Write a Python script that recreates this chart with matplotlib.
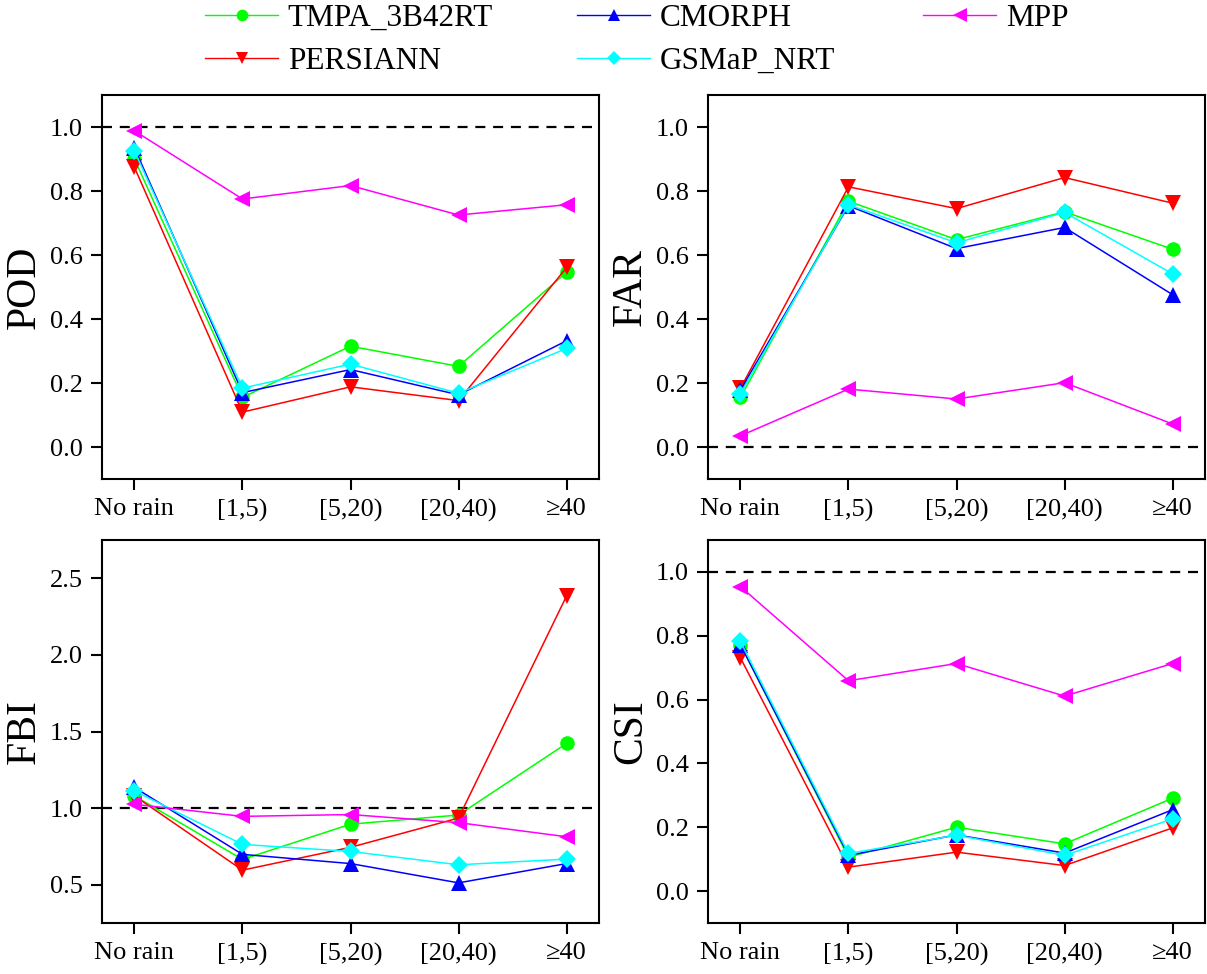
import matplotlib
matplotlib.use("Agg")
import matplotlib.pyplot as plt
from matplotlib.lines import Line2D

plt.rcParams['font.family'] = ['Liberation Serif', 'DejaVu Serif']

categories = ["No rain", "[1,5)", "[5,20)", "[20,40)", "\u226540"]
products = ["TMPA_3B42RT", "PERSIANN", "CMORPH", "GSMaP_NRT", "MPP"]
colors = {"TMPA_3B42RT": "#00FF00", "PERSIANN": "#FF0000", "CMORPH": "#0000FF",
          "GSMaP_NRT": "#00FFFF", "MPP": "#FF00FF"}
markers = {"TMPA_3B42RT": "o", "PERSIANN": "v", "CMORPH": "^",
           "GSMaP_NRT": "D", "MPP": "<"}
msizes = {"TMPA_3B42RT": 10.5, "PERSIANN": 11.5, "CMORPH": 11.5,
          "GSMaP_NRT": 9, "MPP": 12}

pod_tmpa = [0.90, 0.155, 0.315, 0.252, 0.546]
pod_persiann = [0.874, 0.109, 0.188, 0.145, 0.561]
pod_cmorph = [0.935, 0.170, 0.242, 0.163, 0.332]
pod_gsmap = [0.925, 0.184, 0.259, 0.168, 0.308]
pod_mpp = [0.988, 0.775, 0.817, 0.725, 0.757]

far_tmpa = [0.155, 0.768, 0.648, 0.735, 0.618]
far_persiann = [0.183, 0.813, 0.745, 0.842, 0.762]
far_cmorph = [0.178, 0.754, 0.620, 0.686, 0.476]
far_gsmap = [0.167, 0.757, 0.638, 0.733, 0.541]
far_mpp = [0.035, 0.181, 0.150, 0.201, 0.072]

fbi_tmpa = [1.08, 0.665, 0.895, 0.955, 1.422]
fbi_persiann = [1.08, 0.595, 0.744, 0.935, 2.385]
fbi_cmorph = [1.135, 0.698, 0.638, 0.512, 0.638]
fbi_gsmap = [1.112, 0.763, 0.717, 0.630, 0.667]
fbi_mpp = [1.025, 0.946, 0.958, 0.905, 0.813]

csi_tmpa = [0.772, 0.106, 0.200, 0.148, 0.291]
csi_persiann = [0.731, 0.075, 0.122, 0.080, 0.198]
csi_cmorph = [0.772, 0.112, 0.176, 0.119, 0.255]
csi_gsmap = [0.782, 0.118, 0.175, 0.112, 0.226]
csi_mpp = [0.954, 0.659, 0.713, 0.611, 0.713]

panels = [
    ("POD", {"TMPA_3B42RT": pod_tmpa, "PERSIANN": pod_persiann, "CMORPH": pod_cmorph,
             "GSMaP_NRT": pod_gsmap, "MPP": pod_mpp},
     (-0.1, 1.1), [0.0, 0.2, 0.4, 0.6, 0.8, 1.0], 1.0),
    ("FAR", {"TMPA_3B42RT": far_tmpa, "PERSIANN": far_persiann, "CMORPH": far_cmorph,
             "GSMaP_NRT": far_gsmap, "MPP": far_mpp},
     (-0.1, 1.1), [0.0, 0.2, 0.4, 0.6, 0.8, 1.0], 0.0),
    ("FBI", {"TMPA_3B42RT": fbi_tmpa, "PERSIANN": fbi_persiann, "CMORPH": fbi_cmorph,
             "GSMaP_NRT": fbi_gsmap, "MPP": fbi_mpp},
     (0.25, 2.75), [0.5, 1.0, 1.5, 2.0, 2.5], 1.0),
    ("CSI", {"TMPA_3B42RT": csi_tmpa, "PERSIANN": csi_persiann, "CMORPH": csi_cmorph,
             "GSMaP_NRT": csi_gsmap, "MPP": csi_mpp},
     (-0.1, 1.1), [0.0, 0.2, 0.4, 0.6, 0.8, 1.0], 1.0),
]

W, H = 1207, 974
fig = plt.figure(figsize=(W / 100, H / 100), dpi=100)

boxes = [(102, 95, 599, 479), (708, 95, 1205, 479),
         (102, 540, 599, 923), (708, 540, 1205, 923)]

draw_order = ["TMPA_3B42RT", "PERSIANN", "CMORPH", "GSMaP_NRT", "MPP"]

for (name, data, ylim, yticks, ref), (x0, y0, x1, y1) in zip(panels, boxes):
    ax = fig.add_axes([x0 / W, 1 - y1 / H, (x1 - x0) / W, (y1 - y0) / H])
    x = list(range(len(categories)))
    ax.axhline(ref, color="black", lw=1.6, linestyle=(0, (4.5, 3.5)), zorder=1)
    for p in draw_order:
        ax.plot(x, data[p], color=colors[p], marker=markers[p], markersize=msizes[p],
                lw=1.1, markeredgewidth=0, zorder=3)
    ax.set_xlim(-0.3, 4.3)
    ax.set_ylim(*ylim)
    ax.set_xticks(x)
    ax.set_xticklabels(categories)
    ax.set_yticks(yticks)
    ax.set_yticklabels([f"{v:.1f}" for v in yticks])
    ax.tick_params(axis="both", direction="out", length=8, width=1.5,
                   labelsize=19, pad=6, top=False, right=False)
    for s in ax.spines.values():
        s.set_linewidth(1.5)
    ax.set_ylabel(name, fontsize=30, labelpad=4)

# legend in three columns
handles = {p: Line2D([], [], color=colors[p], marker=markers[p],
                     markersize=msizes[p] * 0.8, lw=1.0, markeredgewidth=0)
           for p in products}
cols = [(["TMPA_3B42RT", "PERSIANN"], 205), (["CMORPH", "GSMaP_NRT"], 577), (["MPP"], 923)]
for labels, xpx in cols:
    fig.legend([handles[l] for l in labels], labels, loc="upper left",
               bbox_to_anchor=(xpx / W, 1 - 4 / H), frameon=False,
               fontsize=22.5, handlelength=2.35, handletextpad=0.3,
               borderpad=0, borderaxespad=0, labelspacing=0.45)

fig.savefig("out.png", dpi=100)
